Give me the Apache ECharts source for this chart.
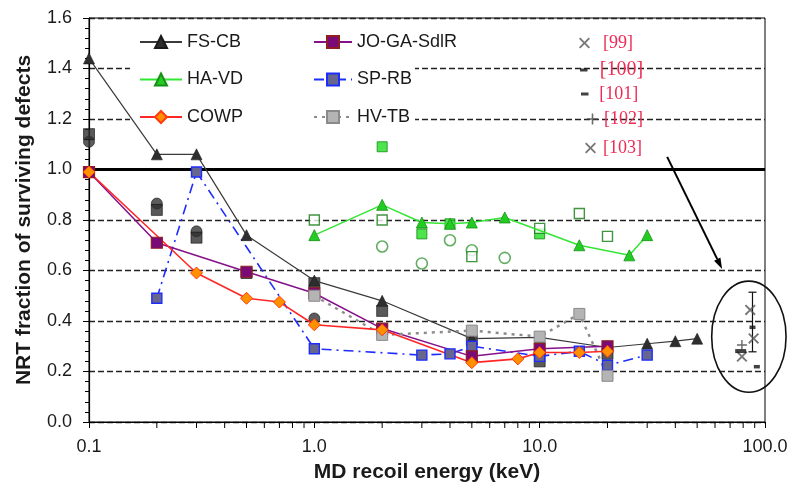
<!DOCTYPE html>
<html>
<head>
<meta charset="utf-8">
<script src="https://cdn.jsdelivr.net/npm/echarts@6/dist/echarts.min.js"></script>
<style>
  html, body { margin: 0; padding: 0; background: #fff; }
  #chart { width: 788px; height: 491px; }
</style>
</head>
<body>
<div id="chart"></div>
<script>
// ---- Simulation sets: recoil energy (keV) and NRT fraction of surviving defects ----
const fsCbEnergy = [0.1, 0.2, 0.3, 0.5, 1, 2, 5, 10, 20, 30, 40, 50];
const fsCbFraction = [1.44, 1.06, 1.06, 0.74, 0.56, 0.48, 0.33, 0.335, 0.295, 0.31, 0.32, 0.33];

const haVdEnergy = [1, 2, 3, 4, 5, 7, 15, 25, 30];
const haVdFraction = [0.74, 0.86, 0.79, 0.785, 0.79, 0.81, 0.70, 0.66, 0.74];

const cowpEnergy = [0.1, 0.3, 0.5, 0.7, 1, 2, 5, 8, 10, 15, 20];
const cowpFraction = [0.99, 0.59, 0.49, 0.475, 0.385, 0.365, 0.235, 0.25, 0.275, 0.275, 0.28];

const joGaEnergy = [0.1, 0.2, 0.5, 1, 2, 5, 10, 20];
const joGaFraction = [0.99, 0.71, 0.595, 0.51, 0.37, 0.26, 0.29, 0.30];

const spRbEnergy = [0.2, 0.3, 1, 3, 4, 5, 10, 15, 20, 30];
const spRbFraction = [0.49, 0.99, 0.29, 0.265, 0.27, 0.30, 0.26, 0.28, 0.225, 0.265];

const hvTbEnergy = [1, 2, 5, 10, 15, 20];
const hvTbFraction = [0.50, 0.345, 0.362, 0.338, 0.428, 0.183];

// ---- Further sets drawn with markers only ----
const darkSquareEnergy = [0.1, 0.2, 0.3, 0.5, 1, 2, 5, 10, 20];
const darkSquareFraction = [1.14, 0.84, 0.73, 0.59, 0.55, 0.44, 0.325, 0.24, 0.27];

const darkCircleEnergy = [0.1, 0.2, 0.3, 1];
const darkCircleFraction = [1.11, 0.865, 0.755, 0.41];

const greenFilledEnergy = [2, 3, 4, 10];
const greenFilledFraction = [1.09, 0.745, 0.785, 0.745];

const greenOpenSquareEnergy = [1, 2, 5, 10, 15, 20];
const greenOpenSquareFraction = [0.80, 0.80, 0.655, 0.767, 0.826, 0.735];

const greenOpenCircleEnergy = [2, 3, 4, 5, 7];
const greenOpenCircleFraction = [0.695, 0.628, 0.72, 0.68, 0.65];

// ---- Experimental estimates [99]-[103] ----
const ref99Energy = [86, 79];
const ref99Fraction = [0.444, 0.259];
const ref100Energy = [78];
const ref100Fraction = [0.281];
const ref101Energy = [88, 92];
const ref101Fraction = [0.375, 0.219];
const ref102Energy = [79];
const ref102Fraction = [0.305];
const ref103Energy = [89];
const ref103Fraction = [0.331];
const errorBarEnergy = [88];
const errorBarLow = [0.278];
const errorBarHigh = [0.514];

// ---- Annotations (data coordinates) ----
const unityFraction = 1.0;
const ellipseEnergy = [58, 124];
const ellipseFraction = [0.118, 0.558];
const arrowEnergy = [36.8, 64.5];
const arrowFraction = [1.05, 0.606];

// ---- Axis ticks ----
const xTickLabels = ['0.1', '1.0', '10.0', '100.0'];
const yTickLabels = ['0.0', '0.2', '0.4', '0.6', '0.8', '1.0', '1.2', '1.4', '1.6'];
const xMinorTicks = [0.2, 0.3, 0.4, 0.5, 0.6, 0.7, 0.8, 0.9,
                     2, 3, 4, 5, 6, 7, 8, 9,
                     20, 30, 40, 50, 60, 70, 80, 90];

const FONT = '"Liberation Sans", Arial, sans-serif';
const SERIF = '"Liberation Serif", "Times New Roman", serif';
const TEXT = '#1a1a1a';
const REF_RED = '#ee2a55';

const X_PATH = 'path://M0,1.2L1.2,0L5,3.8L8.8,0L10,1.2L6.2,5L10,8.8L8.8,10L5,6.2L1.2,10L0,8.8L3.8,5Z';
const PLUS_PATH = 'path://M4.3,0H5.7V4.3H10V5.7H5.7V10H4.3V5.7H0V4.3H4.3Z';
const DASH_PATH = 'path://M0,0H10V4H0Z';

const pairs = (xs, ys) => xs.map((x, i) => [x, ys[i]]);

function lineSet(name, xs, ys, symbol, size, lineStyle, itemStyle, extra) {
  return Object.assign({
    name, type: 'line', data: pairs(xs, ys),
    symbol, symbolSize: size, showSymbol: true, showAllSymbol: true,
    lineStyle, itemStyle, emphasis: { disabled: true }, animation: false
  }, extra || {});
}
function markerSet(name, xs, ys, symbol, size, itemStyle, extra) {
  return Object.assign({
    name, type: 'scatter', data: pairs(xs, ys),
    symbol, symbolSize: size, itemStyle,
    emphasis: { disabled: true }, animation: false
  }, extra || {});
}

const chart = echarts.init(document.getElementById('chart'));

const refLegends = [
  { name: '[99]', left: 579, top: 32, itemWidth: 27, itemHeight: 11, fontSize: 18 },
  { name: '[100]', left: 580, top: 59, itemWidth: 22, itemHeight: 3, fontSize: 20 },
  { name: '[101]', left: 581, top: 83, itemWidth: 19, itemHeight: 3, fontSize: 18 },
  { name: '[102]', left: 587, top: 108, itemWidth: 13, itemHeight: 11, fontSize: 18 },
  { name: '[103]', left: 585, top: 137, itemWidth: 15, itemHeight: 11, fontSize: 18 }
].map(r => ({
  data: [r.name], left: r.left, top: r.top, orient: 'vertical',
  itemWidth: r.itemWidth, itemHeight: r.itemHeight, selectedMode: false,
  padding: 0,
  textStyle: { fontFamily: SERIF, fontSize: r.fontSize, color: REF_RED, lineHeight: 22 }
}));

const mainLegendText = { fontFamily: FONT, fontSize: 18, color: TEXT, lineHeight: 20 };

const option = {
  backgroundColor: '#fff',
  animation: false,
  grid: {
    left: 89, right: 23, top: 18, bottom: 69,
    show: true, borderColor: '#000', borderWidth: 1,
    backgroundColor: 'transparent', containLabel: false, outerBoundsMode: 'none'
  },
  graphic: {
    elements: [{
      type: 'rect', left: 130, top: 22, z: 1, silent: true,
      shape: { width: 285, height: 110 }, style: { fill: '#fff' }
    }]
  },
  legend: [
    {
      data: ['FS-CB', 'HA-VD', 'COWP'], left: 139, top: 32, orient: 'vertical',
      itemWidth: 42, itemHeight: 15, itemGap: 17.5, padding: 0, selectedMode: false,
      textStyle: mainLegendText
    },
    {
      data: ['JO-GA-SdlR', 'SP-RB', 'HV-TB'], left: 313, top: 32, orient: 'vertical',
      itemWidth: 38, itemHeight: 15, itemGap: 17.5, padding: 0, selectedMode: false,
      textStyle: mainLegendText
    }
  ].concat(refLegends),
  xAxis: {
    type: 'log', logBase: 10, min: 0.1, max: 100,
    name: 'MD recoil energy (keV)', nameLocation: 'middle', nameGap: 40,
    nameTextStyle: { fontFamily: FONT, fontSize: 21, fontWeight: 'bold', color: TEXT },
    axisLine: { show: true, onZero: false, lineStyle: { color: '#000', width: 1.2 } },
    axisTick: { show: true, inside: false, length: 6, lineStyle: { color: '#000', width: 1 } },
    axisLabel: {
      margin: 16, fontFamily: FONT, fontSize: 18, color: TEXT,
      formatter: v => xTickLabels[Math.round(Math.log10(v)) + 1]
    },
    splitLine: { show: false }
  },
  yAxis: {
    type: 'value', min: 0, max: 1.6, interval: 0.2,
    name: 'NRT fraction of surviving defects', nameLocation: 'middle', nameGap: 54,
    nameTextStyle: { fontFamily: FONT, fontSize: 21, fontWeight: 'bold', color: TEXT },
    axisLine: { show: true, lineStyle: { color: '#000', width: 1.2 } },
    axisTick: { show: true, inside: false, length: 6, lineStyle: { color: '#000', width: 1 } },
    minorTick: { show: true, splitNumber: 5, length: 4, lineStyle: { color: '#000', width: 1 } },
    axisLabel: {
      margin: 17, fontFamily: FONT, fontSize: 18, color: TEXT,
      formatter: v => yTickLabels[Math.round(v / 0.2)]
    },
    splitLine: { show: true, lineStyle: { color: '#222', width: 1.3, type: [6, 3] } }
  },
  series: [
    markerSet('openCircles', greenOpenCircleEnergy, greenOpenCircleFraction, 'circle', 11,
      { color: 'rgba(255,255,255,0)', borderColor: '#3d9a3d', borderWidth: 1.6 },
      {
        markLine: {
          silent: true, z: 1, symbol: 'none', label: { show: false },
          lineStyle: { color: '#000', width: 3, type: 'solid' },
          data: [{ yAxis: unityFraction }]
        }
      }),
    markerSet('filledSquares', greenFilledEnergy, greenFilledFraction, 'rect', 10,
      { color: '#22dd22', borderColor: '#138a13', borderWidth: 1 }),
    markerSet('openSquares', greenOpenSquareEnergy, greenOpenSquareFraction, 'rect', 10,
      { color: '#fff', borderColor: '#127a12', borderWidth: 1.4 }),
    lineSet('HA-VD', haVdEnergy, haVdFraction, 'triangle', 11,
      { color: '#33e633', width: 1.5 },
      { color: '#22cc22', borderColor: '#189018', borderWidth: 0.8 }),
    lineSet('FS-CB', fsCbEnergy, fsCbFraction, 'triangle', 11,
      { color: '#3a3a3a', width: 1.2 },
      { color: '#2e2e2e', borderColor: '#1a1a1a', borderWidth: 0.6 }),
    lineSet('SP-RB', spRbEnergy, spRbFraction, 'rect', 10,
      { color: '#1e2dff', width: 1.6, type: [10, 5, 2, 5] },
      { color: '#66668f', borderColor: '#1e2dff', borderWidth: 1.4 }),
    lineSet('JO-GA-SdlR', joGaEnergy, joGaFraction, 'rect', 11,
      { color: '#86108a', width: 1.5 },
      { color: '#7a0a78', borderColor: '#8f1f1f', borderWidth: 1.2 }),
    markerSet('darkCircles', darkCircleEnergy, darkCircleFraction, 'circle', 11,
      { color: '#333', borderColor: '#111', borderWidth: 0.8 }),
    markerSet('darkSquares', darkSquareEnergy, darkSquareFraction, 'rect', 11,
      { color: '#2f2f2f', borderColor: '#111', borderWidth: 0.8 }),
    lineSet('HV-TB', hvTbEnergy, hvTbFraction, 'rect', 11,
      { color: '#8c8c8c', width: 2.5, type: [3, 5] },
      { color: '#b4b4b4', borderColor: '#8a8a8a', borderWidth: 1 }),
    lineSet('COWP', cowpEnergy, cowpFraction, 'diamond', 12,
      { color: '#ff2626', width: 1.6 },
      { color: '#ff9000', borderColor: '#ff3a10', borderWidth: 1 }),
    // arrow pointing at the experimental group
    {
      name: 'arrow', type: 'custom', animation: false, silent: true, clip: false, z: 5,
      data: [[arrowEnergy[0], arrowFraction[0], arrowEnergy[1], arrowFraction[1]]],
      encode: { x: [0, 2], y: [1, 3] },
      renderItem: (params, api) => {
        const s = api.coord([api.value(0), api.value(1)]);
        const t = api.coord([api.value(2), api.value(3)]);
        const dx = t[0] - s[0], dy = t[1] - s[1];
        const len = Math.sqrt(dx * dx + dy * dy);
        const ux = dx / len, uy = dy / len;
        const headLen = 11, headHalf = 3.5;
        const bx = t[0] - ux * headLen, by = t[1] - uy * headLen;
        return {
          type: 'group', children: [
            { type: 'line', shape: { x1: s[0], y1: s[1], x2: bx, y2: by },
              style: { stroke: '#000', lineWidth: 2 } },
            { type: 'polygon', shape: { points: [
                [t[0], t[1]],
                [bx - uy * headHalf, by + ux * headHalf],
                [bx + uy * headHalf, by - ux * headHalf]
              ] }, style: { fill: '#000' } }
          ]
        };
      }
    },
    // experimental estimates
    {
      name: 'errorBar', type: 'custom', animation: false, silent: true,
      data: errorBarEnergy.map((e, i) => [e, errorBarLow[i], errorBarHigh[i]]),
      encode: { x: 0, y: [1, 2] },
      renderItem: (params, api) => {
        const lo = api.coord([api.value(0), api.value(1)]);
        const hi = api.coord([api.value(0), api.value(2)]);
        const w = 4;
        const st = { stroke: '#111', lineWidth: 1.2 };
        return {
          type: 'group', children: [
            { type: 'line', shape: { x1: lo[0], y1: lo[1], x2: hi[0], y2: hi[1] }, style: st },
            { type: 'line', shape: { x1: lo[0] - w, y1: lo[1], x2: lo[0] + w, y2: lo[1] }, style: st },
            { type: 'line', shape: { x1: hi[0] - w, y1: hi[1], x2: hi[0] + w, y2: hi[1] }, style: st }
          ]
        };
      }
    },
    markerSet('[99]', ref99Energy, ref99Fraction, X_PATH, 11, { color: '#555' }),
    markerSet('[100]', ref100Energy, ref100Fraction, DASH_PATH, [11, 4], { color: '#111' }),
    markerSet('[101]', ref101Energy, ref101Fraction, DASH_PATH, [6, 3.5], { color: '#111' }),
    markerSet('[102]', ref102Energy, ref102Fraction, PLUS_PATH, 10, { color: '#444' }),
    markerSet('[103]', ref103Energy, ref103Fraction, X_PATH, 11, { color: '#555' }),
    {
      name: 'ellipse', type: 'custom', animation: false, silent: true, clip: false,
      data: [[ellipseEnergy[0], ellipseEnergy[1], ellipseFraction[0], ellipseFraction[1]]],
      encode: { x: [0, 1], y: [2, 3] },
      renderItem: (params, api) => {
        const a = api.coord([api.value(0), api.value(3)]);
        const b = api.coord([api.value(1), api.value(2)]);
        return {
          type: 'ellipse',
          shape: { cx: (a[0] + b[0]) / 2, cy: (a[1] + b[1]) / 2, rx: (b[0] - a[0]) / 2, ry: (b[1] - a[1]) / 2 },
          style: { fill: 'none', stroke: '#111', lineWidth: 1.6 }
        };
      }
    },
    {
      name: 'xMinorTicks', type: 'custom', animation: false, silent: true, clip: false,
      data: xMinorTicks.map(e => [e, 0]),
      encode: { x: 0, y: 1 },
      renderItem: (params, api) => {
        const p = api.coord([api.value(0), 0]);
        return {
          type: 'line', shape: { x1: p[0], y1: p[1], x2: p[0], y2: p[1] + 6 },
          style: { stroke: '#000', lineWidth: 1 }
        };
      }
    }
  ]
};

chart.setOption(option);
</script>
</body>
</html>
